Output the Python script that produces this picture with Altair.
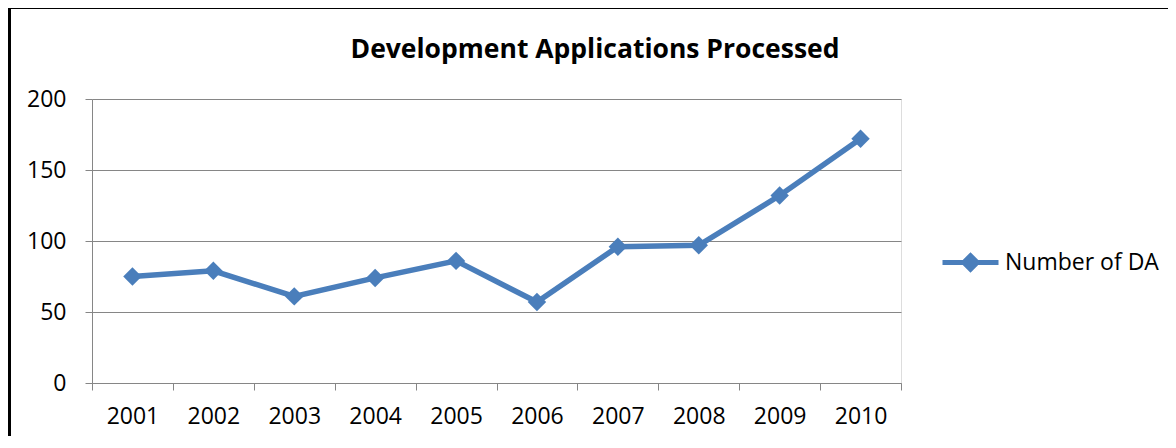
import altair as alt
import pandas as pd

years = ["2001", "2002", "2003", "2004", "2005", "2006", "2007", "2008", "2009", "2010"]
counts = [75, 79, 61, 74, 86, 57, 96, 97, 132, 172]
series = "Number of DA"
title_text = "Development Applications Processed"
heading_text = "Planning Approvals Processed"

BLUE = "#4A7EBB"
GRAY = "#868686"
FONT = "Open Sans"

df = pd.DataFrame({"year": years, "count": counts, "series": [series] * len(years)})

x_enc = alt.X(
    "year:O",
    sort=years,
    scale=alt.Scale(type="band", paddingInner=0, paddingOuter=0),
    bandPosition=0.5,
    axis=alt.Axis(
        title=None, labelAngle=0, tickBand="extent", grid=False,
        domainColor=GRAY, tickColor=GRAY, tickSize=7, labelPadding=15,
        labelFontSize=23, labelColor="black", labelFont=FONT,
    ),
)
y_enc = alt.Y(
    "count:Q",
    scale=alt.Scale(domain=[0, 200]),
    axis=alt.Axis(
        title=None, values=[0, 50, 100, 150, 200], grid=True, gridColor=GRAY,
        domainColor=GRAY, tickColor=GRAY, tickSize=7, labelPadding=19,
        labelFontSize=23, labelColor="black", labelFont=FONT,
    ),
)
color_enc = alt.Color(
    "series:N",
    scale=alt.Scale(range=[BLUE]),
    legend=alt.Legend(
        title=None, orient="none", legendX=848, legendY=133, padding=0,
        symbolType="M-1,0L1,0M0,-0.24L0.24,0L0,0.24L-0.24,0Z",
        symbolSize=3136, symbolStrokeWidth=5,
        symbolFillColor=BLUE, symbolStrokeColor=BLUE,
        labelFontSize=23, labelFont=FONT, labelColor="black", labelOffset=4,
    ),
)

line = alt.Chart(df).mark_line(strokeWidth=5.5).encode(x=x_enc, y=y_enc, color=color_enc)
points = alt.Chart(df).mark_point(shape="diamond", filled=True, size=340, opacity=1).encode(
    x=x_enc, y=y_enc, color=alt.Color("series:N", scale=alt.Scale(range=[BLUE]), legend=None)
)

frame = alt.Chart(pd.DataFrame({"k": [0]})).mark_rect(
    fill=None, stroke="black", strokeWidth=4
).encode(x=alt.value(-83), x2=alt.value(1200), y=alt.value(-92), y2=alt.value(420))

heading = alt.Chart(pd.DataFrame({"t": [heading_text]})).mark_text(
    align="left", baseline="alphabetic", font=FONT, fontSize=22, fontWeight="bold", color="black"
).encode(x=alt.value(-94), y=alt.value(-97), text="t:N")

title = alt.Chart(pd.DataFrame({"t": [title_text]})).mark_text(
    align="center", baseline="alphabetic", font=FONT, fontSize=26.5, fontWeight="bold", color="black"
).encode(x=alt.value(503), y=alt.value(-41), text="t:N")

chart = alt.layer(frame, heading, title, line, points).properties(
    width=809,
    height=284,
    autosize=alt.AutoSizeParams(type="none"),
    padding={"left": 84, "top": 91, "right": 267, "bottom": 53},
).configure_view(stroke=None).configure(font=FONT)

chart.save("out.html", embed_options={"renderer": "svg", "actions": False})
